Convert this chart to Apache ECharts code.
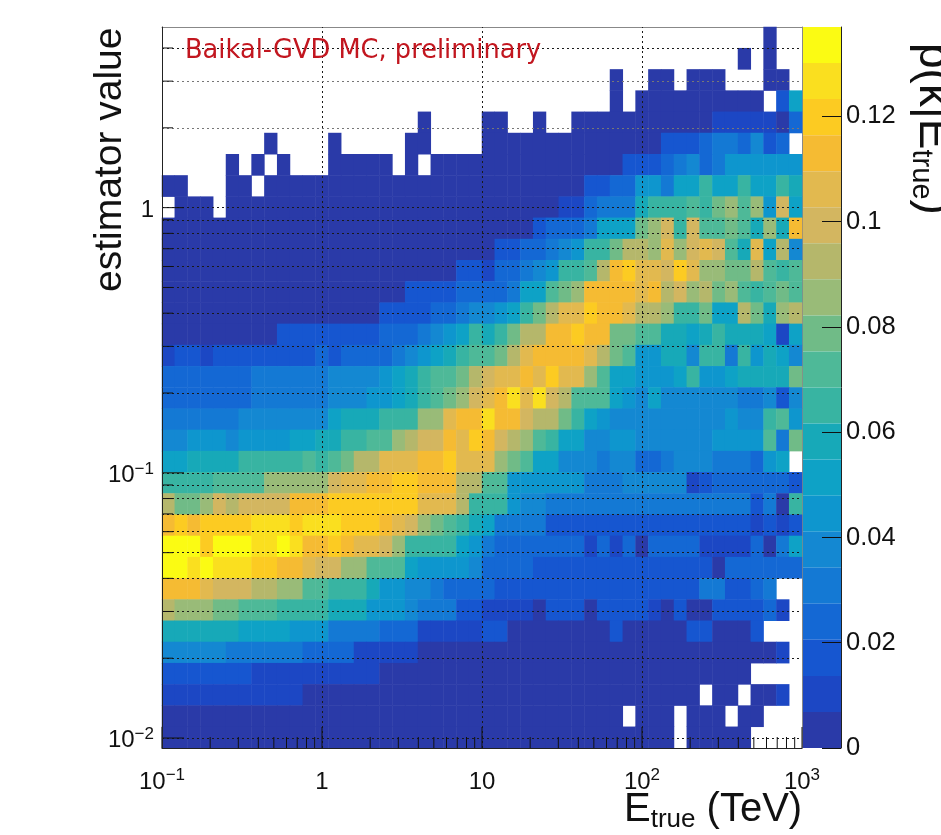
<!DOCTYPE html>
<html>
<head>
<meta charset="utf-8">
<title>estimator value vs Etrue</title>
<script src="https://cdn.jsdelivr.net/npm/echarts@6/dist/echarts.min.js"></script>
<style>
  html, body { margin: 0; padding: 0; background: #fff; overflow: hidden; }
  #chart { width: 941px; height: 835px; }
</style>
</head>
<body>
<div id="chart"></div>
<script>
const _ = null;
// p(k|Etrue) in units of 1e-3, one list per row of bins, top row of the picture first
const row00 = [_,_,_,_,_,_,_,_,_,_, _,_,_,_,_,_,_,_,_,_, _,_,_,_,_,_,_,_,_,_, _,_,_,_,_,_,_,_,_,_, _,_,_,_,_,_,_,3,_,_];
const row01 = [_,_,_,_,_,_,_,_,_,_, _,_,_,_,_,_,_,_,_,_, _,_,_,_,_,_,_,_,_,_, _,_,_,_,_,_,_,_,_,_, _,_,_,_,_,3,_,3,_,_];
const row02 = [_,_,_,_,_,_,_,_,_,_, _,_,_,_,_,_,_,_,_,_, _,_,_,_,_,_,_,_,_,_, _,_,_,_,_,3,_,_,3,3, _,3,3,3,_,_,_,3,3,_];
const row03 = [_,_,_,_,_,_,_,_,_,_, _,_,_,_,_,_,_,_,_,_, _,_,_,_,_,_,_,_,_,_, _,_,_,_,_,3,_,3,3,3, 3,3,3,3,3,3,3,_,17,51];
const row04 = [_,_,_,_,_,_,_,_,_,_, _,_,_,_,_,_,_,_,_,_, 3,_,_,_,_,3,3,_,_,3, _,_,3,3,3,3,3,3,3,3, 3,3,3,10,10,10,10,10,3,24];
const row05 = [_,_,_,_,_,_,_,_,3,_, _,_,_,3,_,_,_,_,_,3, 3,_,_,_,_,3,3,3,3,3, 3,3,3,3,3,3,3,3,3,17, 17,17,24,31,31,24,38,17,24,_];
const row06 = [_,_,_,_,_,3,_,3,_,3, _,_,_,3,3,3,3,3,_,3, _,3,3,3,3,3,3,3,3,3, 3,3,3,3,3,3,17,17,17,24, 31,38,24,31,45,45,45,45,45,45];
const row07 = [3,3,_,_,_,3,3,_,3,3, 3,3,3,3,3,3,3,3,3,3, 3,3,3,3,3,3,3,3,3,3, 3,3,3,17,17,24,24,45,45,31, 51,51,65,51,51,65,51,51,65,58];
const row08 = [_,3,3,3,_,3,3,3,3,3, 3,3,3,3,3,3,3,3,3,3, 3,3,3,3,3,3,3,3,3,3, 3,10,10,24,31,31,31,58,65,65, 65,72,65,79,86,72,86,45,99,51];
const row09 = [3,3,3,3,3,3,3,3,3,3, 3,3,3,3,3,3,3,3,3,3, 3,3,3,3,3,3,3,3,3,17, 24,24,24,31,51,51,51,79,86,99, 65,99,72,72,79,72,58,86,58,113];
const row10 = [3,3,3,3,3,3,3,3,3,3, 3,3,3,3,3,3,3,3,3,3, 3,3,3,3,3,3,17,17,24,24, 31,38,45,65,65,79,92,92,86,106, 86,99,106,99,72,58,106,51,92,38];
const row11 = [3,3,3,3,3,3,3,3,3,3, 3,3,3,3,3,3,3,3,3,3, 3,3,3,17,17,10,24,24,31,38, 45,65,65,72,92,113,120,106,106,99, 120,106,86,86,79,79,92,72,65,72];
const row12 = [3,3,3,3,3,3,3,3,3,3, 3,3,3,3,3,3,3,3,3,17, 17,17,17,24,24,24,24,31,51,51, 72,79,86,113,113,113,113,106,113,92, 99,86,92,79,86,72,65,72,79,72];
const row13 = [3,3,3,3,3,3,3,3,3,3, 3,3,3,3,3,3,3,17,17,17, 17,24,24,31,38,38,45,51,65,79, 92,106,106,120,113,113,106,92,92,86, 65,65,79,51,51,92,79,58,86,92];
const row14 = [3,3,3,3,3,3,3,3,3,17, 17,17,17,17,17,17,17,24,24,24, 31,38,45,51,65,58,65,79,92,92, 113,113,120,113,113,79,79,72,72,58, 58,51,58,65,58,58,58,51,10,51];
const row15 = [10,17,17,10,17,17,17,17,17,17, 17,17,24,17,24,24,24,24,31,38, 45,51,58,65,72,72,79,92,106,113, 113,113,113,106,92,79,72,45,45,58, 58,38,65,65,31,65,45,58,51,38];
const row16 = [24,24,24,24,24,24,24,31,31,31, 31,31,31,38,38,38,38,45,51,58, 65,72,72,79,92,99,106,106,113,106, 120,106,106,86,72,51,51,45,45,45, 51,65,45,45,51,58,58,58,58,79];
const row17 = [24,24,24,24,24,24,24,31,31,31, 31,31,31,38,38,38,45,45,51,58, 65,72,79,86,99,106,113,127,106,127, 99,92,72,72,72,51,45,38,51,38, 38,38,38,38,38,31,31,38,17,38];
const row18 = [31,31,31,31,31,31,38,38,38,38, 38,38,38,51,58,58,58,65,65,65, 86,86,106,113,113,127,113,113,99,92, 92,79,65,51,45,38,38,38,38,38, 38,38,38,38,45,38,38,65,72,45];
const row19 = [38,38,45,45,45,38,45,45,45,45, 51,51,58,58,65,65,72,72,86,92, 99,99,113,106,120,113,99,92,86,72, 65,51,51,38,38,45,45,38,38,38, 38,38,38,45,45,45,45,72,31,79];
const row20 = [51,51,58,58,58,58,65,65,65,65, 65,72,65,72,79,92,92,106,106,106, 113,113,120,106,106,106,86,79,72,51, 51,38,38,38,31,38,38,24,24,31, 38,38,38,31,31,31,24,45,51,_];
const row21 = [65,65,65,65,72,72,72,72,86,86, 86,86,86,99,106,106,113,113,120,120, 113,113,113,92,92,72,72,45,45,45, 45,45,45,31,31,31,38,38,38,38, 38,10,17,24,24,24,24,24,24,17];
const row22 = [92,79,79,86,99,92,99,99,99,99, 113,113,113,120,120,120,120,120,120,120, 106,106,106,92,65,65,65,45,38,38, 31,31,31,31,31,31,31,31,31,31, 31,31,31,31,31,31,17,31,3,65];
const row23 = [113,120,113,120,120,120,120,127,127,127, 120,127,127,127,120,120,120,113,106,99, 86,79,72,65,58,51,31,31,31,31, 17,17,17,17,17,17,17,17,17,17, 17,17,17,17,17,17,10,17,10,17];
const row24 = [134,134,134,120,134,134,134,127,127,134, 127,113,113,120,113,106,106,99,86,65, 65,65,65,51,45,31,24,24,24,24, 24,24,24,10,24,10,24,3,24,24, 24,24,10,10,10,10,24,3,31,51];
const row25 = [134,134,127,134,127,127,127,120,120,113, 113,106,99,99,86,86,72,72,72,51, 45,45,45,45,38,24,24,24,24,17, 17,17,17,17,17,17,17,17,17,17, 17,17,17,3,24,24,24,24,24,24];
const row26 = [113,113,113,106,99,99,99,92,92,86, 86,72,72,65,65,65,58,45,45,38, 38,31,24,24,24,24,17,17,17,17, 17,17,17,17,17,17,17,17,17,17, 17,17,31,31,17,17,24,31,_,_];
const row27 = [92,86,86,86,79,79,72,72,72,65, 65,65,65,58,58,58,45,45,45,38, 31,31,31,17,17,10,10,10,10,3, 17,17,17,3,17,17,17,17,10,3, 17,3,3,17,17,17,17,24,10,_];
const row28 = [58,58,58,58,58,58,51,51,51,51, 45,45,45,31,31,31,31,24,24,24, 10,10,10,10,10,17,17,3,3,3, 3,3,3,3,3,17,3,3,3,3, 3,17,17,3,3,3,17,_,_,_];
const row29 = [38,38,38,38,38,31,31,31,31,31, 31,24,24,24,24,10,10,10,10,10, 3,3,3,3,3,3,3,3,3,3, 3,3,3,3,3,3,3,3,3,3, 3,3,3,3,3,3,3,3,10,_];
const row30 = [17,17,17,17,17,17,17,10,10,10, 10,10,10,10,10,10,10,3,3,3, 3,3,3,3,3,3,3,3,3,3, 3,3,3,3,3,3,3,3,3,3, 3,3,3,3,3,3,_,_,_,_];
const row31 = [10,10,10,10,10,10,10,10,10,10, 10,3,3,3,3,3,3,3,3,3, 3,3,3,3,3,3,3,3,3,3, 3,3,3,3,3,3,3,3,3,3, 3,3,_,3,3,_,3,3,10,_];
const row32 = [3,3,3,3,3,3,3,3,3,3, 3,3,3,3,3,3,3,3,3,3, 3,3,3,3,3,3,3,3,3,3, 3,3,3,3,3,3,_,3,3,3, _,3,3,3,_,3,3,_,_,_];
const row33 = [3,3,3,3,3,3,3,3,3,3, 3,3,3,3,3,3,3,3,3,3, 3,3,3,3,3,3,3,3,3,3, 3,3,3,3,3,3,3,3,3,3, _,3,3,3,3,3,_,_,_,_];
const rows = [row00,row01,row02,row03,row04,row05,row06,row07,row08,row09,row10,row11,row12,row13,row14,row15,row16,
  row17,row18,row19,row20,row21,row22,row23,row24,row25,row26,row27,row28,row29,row30,row31,row32,row33];

// axis ranges
const xMin = 0.1, xMax = 1000;
const yMin = 0.00917, yMax = 4.8;
const zMax = 0.137;

// ticks
const xMajor = [0.1, 1, 10, 100, 1000];
const xMinor = [0.2,0.3,0.4,0.5,0.6,0.7,0.8,0.9, 2,3,4,5,6,7,8,9, 20,30,40,50,60,70,80,90, 200,300,400,500,600,700,800,900];
const yMajor = [0.01, 0.1, 1];
const yMinor = [0.02,0.03,0.04,0.05,0.06,0.07,0.08,0.09, 0.2,0.3,0.4,0.5,0.6,0.7,0.8,0.9, 2,3,4];
const yFaint = [2, 3];
const xTickLabels = ['{b|10}{s|\u22121}', '{b|1}', '{b|10}', '{b|10}{s|2}', '{b|10}{s|3}'];
const yTickLabels = ['{b|10}{s|\u22122}', '{b|10}{s|\u22121}', '{b|1}'];
const zTicks = [0, 0.02, 0.04, 0.06, 0.08, 0.1, 0.12];

// palette, lowest contour first
const bandColors = ['#2a3aa8','#1c47c4','#1656d0','#1468d4','#1479d4','#1488d2','#0e96ce','#0ea2c6','#17a9b8','#38b4a2',
  '#4eb998','#70bb87','#99bb78','#b5b76b','#d3b660','#e2b94f','#f5bb33','#fccb22','#fadf1f','#fbfb13'];

const pieces = bandColors.map((c, i) => ({
  min: (i * zMax) / bandColors.length,
  max: ((i + 1) * zMax) / bandColors.length,
  color: c,
}));

const xBins = rows[0].map((v, i) => i);
const yBins = rows.map((v, i) => i);
const cells = [];
rows.forEach((row, r) => {
  row.forEach((v, c) => {
    if (v !== null) cells.push([c, rows.length - 1 - r, v / 1000]);
  });
});

const labelRich = {
  b: { fontSize: 24, fontFamily: 'Liberation Sans', color: '#111', lineHeight: 30 },
  s: { fontSize: 17, fontFamily: 'Liberation Sans', color: '#111', lineHeight: 30, verticalAlign: 'top' },
};

function tickLabel(values, labels) {
  return (v) => {
    const i = values.findIndex((t) => Math.abs(Math.log10(t / v)) < 1e-6);
    return i < 0 ? '' : labels[i];
  };
}

function tickLine(p, dx, dy) {
  return {
    type: 'line',
    shape: { x1: p[0], y1: p[1], x2: p[0] + dx, y2: p[1] + dy },
    style: { stroke: '#111', lineWidth: 1 },
  };
}

const charts = echarts.init(document.getElementById('chart'), null, { renderer: 'canvas' });

const option = {
  animation: false,
  backgroundColor: '#fff',
  grid: [
    { left: 162, top: 27, width: 640, height: 721 },
    { left: 162, top: 27, width: 640, height: 721 },
    { left: 803, top: 27, width: 38, height: 721 },
  ],
  xAxis: [
    {
      type: 'category', gridIndex: 0, data: xBins, position: 'top',
      axisLabel: { show: false }, axisTick: { show: false }, splitLine: { show: false },
      axisLine: { show: true, lineStyle: { color: '#888' } },
    },
    {
      type: 'log', gridIndex: 1, min: xMin, max: xMax, logBase: 10, position: 'bottom', z: 10,
      axisTick: { show: false }, splitLine: { show: false },
      axisLine: { show: true, onZero: false, lineStyle: { color: '#222' } },
      axisLabel: {
        margin: 19, rich: labelRich, hideOverlap: false, showMinLabel: true, showMaxLabel: true,
        customValues: xMajor, formatter: tickLabel(xMajor, xTickLabels),
      },
    },
    { type: 'value', gridIndex: 2, show: false, min: 0, max: 1 },
  ],
  yAxis: [
    {
      type: 'category', gridIndex: 0, data: yBins, position: 'right',
      axisLabel: { show: false }, axisTick: { show: false }, splitLine: { show: false },
      axisLine: { show: true, lineStyle: { color: '#888' } },
    },
    {
      type: 'log', gridIndex: 1, min: yMin, max: yMax, logBase: 10, position: 'left', z: 10,
      axisTick: { show: false }, splitLine: { show: false },
      axisLine: { show: true, onZero: false, lineStyle: { color: '#222' } },
      axisLabel: {
        margin: 8, rich: labelRich, hideOverlap: false, padding: [5, 0, 0, 0],
        customValues: yMajor, formatter: tickLabel(yMajor, yTickLabels),
      },
    },
    {
      type: 'value', gridIndex: 2, min: 0, max: zMax, position: 'right', z: 10,
      splitLine: { show: false },
      axisLine: { show: true, onZero: false, lineStyle: { color: '#222' } },
      axisTick: { show: true, inside: true, length: 19, customValues: zTicks, lineStyle: { color: '#111' } },
      axisLabel: {
        margin: 5, fontSize: 25.5, fontFamily: 'Liberation Sans', color: '#111', padding: [10, 0, 0, 0],
        customValues: zTicks,
      },
    },
  ],
  visualMap: {
    type: 'piecewise',
    seriesIndex: 0,
    left: 803,
    top: 27,
    padding: 0,
    orient: 'vertical',
    itemWidth: 38,
    itemHeight: 36.05,
    itemGap: 0,
    itemSymbol: 'rect',
    showLabel: false,
    hoverLink: false,
    selectedMode: false,
    pieces: pieces,
  },
  series: [
    {
      type: 'heatmap',
      xAxisIndex: 0,
      yAxisIndex: 0,
      data: cells,
      progressive: 0,
      itemStyle: { borderWidth: 0 },
      emphasis: { disabled: true },
    },
    // grid lines and minor ticks drawn through the log axes, above the cells
    {
      type: 'custom',
      name: 'xticks',
      xAxisIndex: 1,
      yAxisIndex: 1,
      z: 5,
      clip: false,
      silent: true,
      data: xMajor.concat(xMinor).map((v) => [v, yMin]),
      renderItem: (params, api) => {
        const p = api.coord([api.value(0), api.value(1)]);
        const major = xMajor.includes(api.value(0));
        return tickLine(p, 0, major ? -21 : -11);
      },
      markLine: {
        silent: true,
        symbol: 'none',
        animation: false,
        label: { show: false },
        lineStyle: { color: '#1a1a1a', width: 1, type: [2, 3] },
        data: xMajor.slice(1, 4).map((v) => ({ xAxis: v }))
          .concat(yMajor.concat(yMinor).map((v) => ({
            yAxis: v,
            lineStyle: yFaint.includes(v) ? { color: '#777' } : {},
          }))),
      },
    },
    {
      type: 'custom',
      name: 'yticks',
      xAxisIndex: 1,
      yAxisIndex: 1,
      z: 5,
      clip: false,
      silent: true,
      data: yMajor.concat(yMinor).map((v) => [xMin, v]),
      renderItem: (params, api) => {
        const p = api.coord([api.value(0), api.value(1)]);
        const major = yMajor.includes(api.value(1));
        return tickLine(p, major ? 22 : 11, 0);
      },
    },
  ],
  graphic: [
    {
      type: 'text', left: 185, top: 38, z: 20, silent: true,
      style: { text: 'Baikal-GVD MC, preliminary', fill: '#c2161f', font: '25.7px "DejaVu Sans"' },
    },
    {
      type: 'text', x: 130, y: 292, rotation: Math.PI / 2, z: 20, silent: true,
      style: { text: 'estimator value', fill: '#111', font: '39px "Liberation Sans"', textVerticalAlign: 'bottom' },
    },
    {
      type: 'text', left: 624, top: 790, z: 20, silent: true,
      style: {
        text: '{a|E}{b|true}{a| (TeV)}',
        rich: {
          a: { fontSize: 40, fontFamily: 'Liberation Sans', fill: '#111', lineHeight: 46 },
          b: { fontSize: 26, fontFamily: 'Liberation Sans', fill: '#111', lineHeight: 46, verticalAlign: 'bottom' },
        },
      },
    },
    {
      type: 'text', x: 960, y: 43, rotation: -Math.PI / 2, z: 20, silent: true,
      style: {
        text: '{a|p(k|E}{b|true}{a|)}',
        rich: {
          a: { fontSize: 46, fontFamily: 'Liberation Sans', fill: '#111', lineHeight: 54 },
          b: { fontSize: 29, fontFamily: 'Liberation Sans', fill: '#111', lineHeight: 54, verticalAlign: 'bottom' },
        },
      },
    },
  ],
};

charts.setOption(option);
</script>
</body>
</html>
